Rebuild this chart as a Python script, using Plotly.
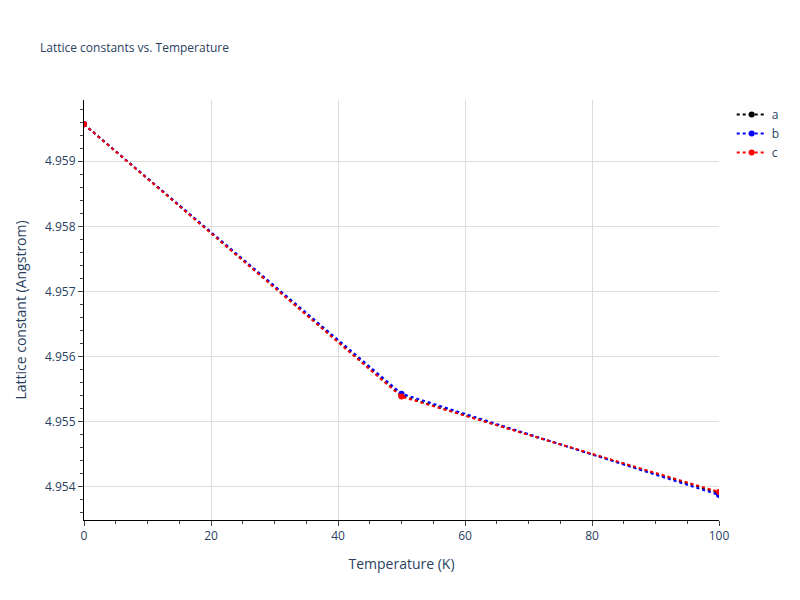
import plotly.graph_objects as go

temps = [0, 50, 100]
a_vals = [4.959567, 4.955396, 4.953905]
b_vals = [4.959567, 4.955430, 4.953875]
c_vals = [4.959567, 4.955385, 4.953920]

fig = go.Figure()
for name, vals, col in [("a", a_vals, "black"), ("b", b_vals, "blue"), ("c", c_vals, "red")]:
    fig.add_trace(go.Scatter(x=temps, y=vals, name=name, mode="lines+markers",
                             line=dict(color=col, dash="dot", width=2), marker=dict(color=col, size=6)))

fig.update_layout(
    template="plotly_white", width=800, height=600,
    title=dict(text="Lattice constants vs. Temperature", font=dict(size=12), x=0.04, y=0.94),
    margin=dict(l=72, r=89, t=92, b=88),
    xaxis=dict(title="Temperature (K)", range=[0, 100], showline=True, linecolor="black",
               gridcolor="#dddddd", ticks="outside", dtick=20,
               minor=dict(ticks="outside", dtick=5), zeroline=False),
    yaxis=dict(title="Lattice constant (Angstrom)", range=[4.95349, 4.95994], showline=True, linecolor="black",
               gridcolor="#dddddd", ticks="outside", dtick=0.001, tickformat=".3f",
               minor=dict(ticks="outside", dtick=0.0002), zeroline=False),
)
fig.write_html("out.html")
